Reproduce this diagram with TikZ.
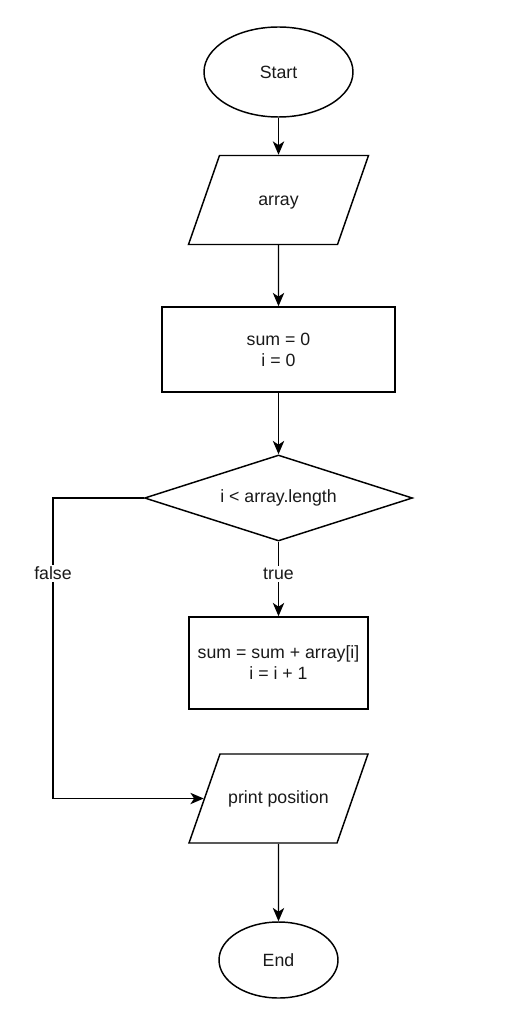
\documentclass[tikz,border=0pt]{standalone}
\usepackage{fontspec}
\setmainfont{Liberation Sans}
\usetikzlibrary{shapes.geometric,arrows.meta}
\begin{document}
\begin{tikzpicture}[x=0.75pt,y=-0.75pt,
  every node/.style={font=\fontsize{13.3}{15.8}\selectfont, align=center, text=black!90},
  box/.style={draw, line width=1.1pt, inner sep=0pt},
  terminal/.style={box, ellipse},
  process/.style={box, rectangle},
  % parallelogram: natural height fixed so that the slanted sides keep their angle
  io/.style={box, trapezium, trapezium left angle=70.8, trapezium right angle=109.2,
             trapezium stretches body, text height=9pt, text depth=1pt,
             inner ysep=28.375pt},
  decision/.style={box, diamond, aspect=3},
  arr/.style={line width=1.1pt, -{Stealth[length=10pt,width=8.5pt,inset=2.8pt]}},
  lbl/.style={fill=white, inner sep=1.5pt}]
\useasboundingbox (0,0) rectangle (526,1016);

% flowchart blocks
\node[terminal, minimum width=111.75pt, minimum height=67.5pt] (start) at (278.5,72) {Start};
\node[io, minimum width=135pt] (input) at (278.5,200) {array};
\node[process, minimum width=174.75pt, minimum height=63.75pt] (init) at (278.5,349.5) {sum = 0\\i = 0};
\node[decision, minimum width=201pt, minimum height=64.5pt] (cond) at (278.5,498) {i \textless{} array.length};
\node[process, minimum width=134.25pt, minimum height=69pt] (body) at (278.5,663) {sum = sum + array[i]\\i = i + 1};
\node[io, minimum width=134.25pt] (output) at (278.5,798.5) {print position};
\node[terminal, minimum width=89.25pt, minimum height=57pt] (stop) at (278.5,960) {End};

\coordinate (bend) at (53,498);

% connectors
\draw[arr] (start) -- (input);
\draw[arr] (input) -- (init);
\draw[arr] (init) -- (cond);
\draw[arr] (cond) -- node[lbl, pos=0.43] {true} (body);
\draw[arr] (cond.west) -- (bend) -- node[lbl, pos=0.25] {false} (bend |- output.west) -- (output.west);
\draw[arr] (output) -- (stop);
\end{tikzpicture}
\end{document}
